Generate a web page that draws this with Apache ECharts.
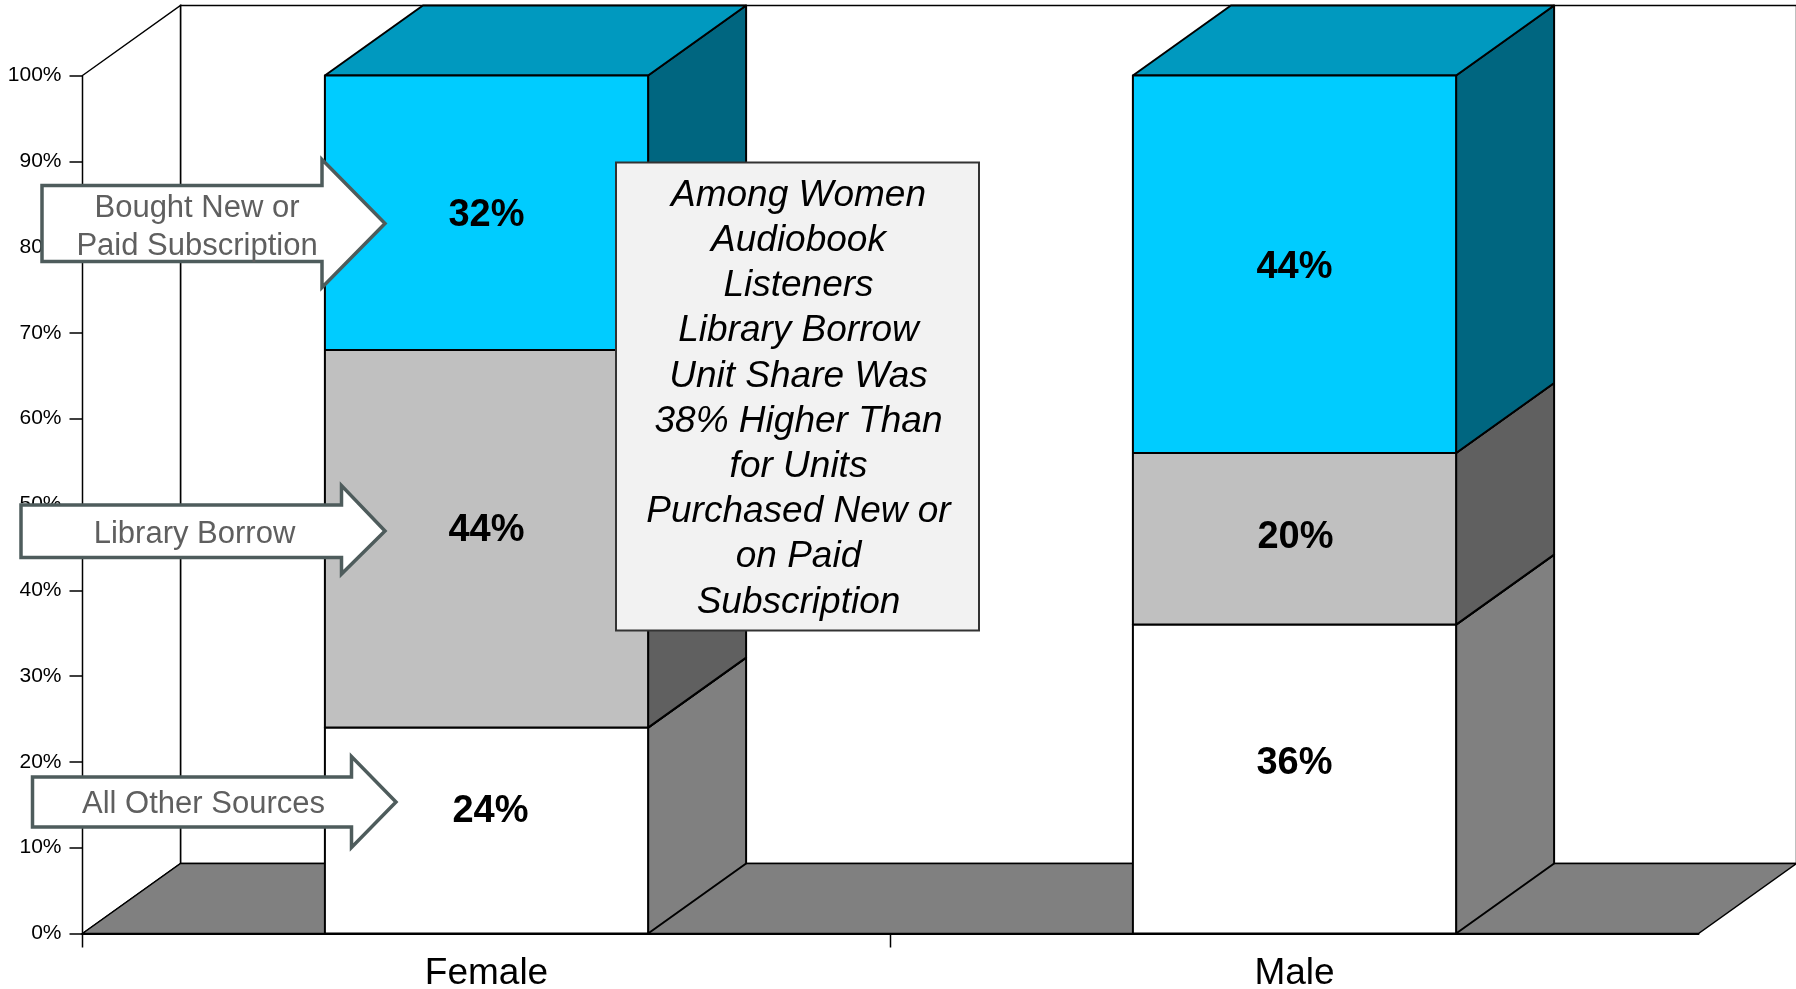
<!DOCTYPE html>
<html>
<head>
<meta charset="utf-8">
<title>Audiobook acquisition by gender</title>
<script src="https://cdn.jsdelivr.net/npm/echarts@6/dist/echarts.min.js"></script>
<style>
  html, body { margin: 0; padding: 0; background: #fff; }
  #chart { width: 1796px; height: 989px; }
</style>
</head>
<body>
<div id="chart"></div>
<script>
// ── Data ──────────────────────────────────────────────────────────────
const categories = ['Female', 'Male'];
const allOtherSources = [24, 36];
const libraryBorrow = [44, 20];
const boughtNewOrPaid = [32, 44];
const yTickLabels = ['0%', '10%', '20%', '30%', '40%', '50%', '60%', '70%', '80%', '90%', '100%'];

// ── Look ──────────────────────────────────────────────────────────────
const FONT = '"Liberation Sans", Arial, Helvetica, sans-serif';
const INK = '#000000';
const DX = 98;          // depth of the 3D box, horizontal
const DY = 70;          // depth of the 3D box, vertical
const BAR_RATIO = 0.4;  // bar width / category width
const X_TICK_LEN = 14;

// shift = nudge of the value label per category (the original placed them by hand)
const segments = [
  { name: 'All Other Sources', values: allOtherSources, front: '#FFFFFF', side: '#808080', top: '#DDDDDD', shift: [[4, -19], [0, -15.5]] },
  { name: 'Library Borrow', values: libraryBorrow, front: '#C0C0C0', side: '#606060', top: '#9A9A9A', shift: [[0, -8.5], [1, -1.5]] },
  { name: 'Bought New or Paid Subscription', values: boughtNewOrPaid, front: '#00CCFF', side: '#006680', top: '#0099BF', shift: [[0, 3], [0, 3]] },
];

// stack the segments: [categoryIndex, low, high, value]
const running = categories.map(() => 0);
const stacked = segments.map(seg => seg.values.map((v, i) => {
  const lo = running[i];
  running[i] += v;
  return [i, lo, running[i], v];
}));

function boxRenderer(seg) {
  return function (params, api) {
    const ci = api.value(0);
    const pLo = api.coord([ci, api.value(1)]);
    const pHi = api.coord([ci, api.value(2)]);
    const w = api.size([1, 0])[0] * BAR_RATIO;
    const xl = pLo[0] - w / 2, xr = pLo[0] + w / 2;
    const y0 = pLo[1], y1 = pHi[1];
    const sh = seg.shift[ci] || [0, 0];
    const edge = { stroke: INK, lineWidth: 2, lineJoin: 'round' };
    return {
      type: 'group',
      children: [
        { type: 'polygon', shape: { points: [[xr, y1], [xr + DX, y1 - DY], [xr + DX, y0 - DY], [xr, y0]] },
          style: Object.assign({ fill: seg.side }, edge) },
        { type: 'polygon', shape: { points: [[xl, y1], [xl + DX, y1 - DY], [xr + DX, y1 - DY], [xr, y1]] },
          style: Object.assign({ fill: seg.top }, edge) },
        { type: 'rect', shape: { x: xl, y: y1, width: w, height: y0 - y1 },
          style: Object.assign({ fill: seg.front }, edge) },
        { type: 'text', x: (xl + xr) / 2 + sh[0], y: (y0 + y1) / 2 + sh[1],
          style: { text: api.value(3) + '%', font: 'bold 38px ' + FONT, fill: INK, align: 'center', verticalAlign: 'middle' } }
      ]
    };
  };
}

// back wall, left wall and floor, built from the grid rectangle
// plus the category-boundary ticks (the original has no tick at the far right end)
function wallRenderer(params, api) {
  const cs = params.coordSys;
  const b = cs.y + cs.height;
  const edge = { stroke: INK, lineWidth: 1.5 };
  const band = api.size([1, 0])[0];
  const ticks = categories.map((c, i) => {
    const x = api.coord([i, 0])[0] - band / 2;
    return { type: 'line', shape: { x1: x, y1: b, x2: x, y2: b + X_TICK_LEN }, style: { stroke: INK, lineWidth: 1.5 } };
  });
  return {
    type: 'group',
    children: [
      { type: 'rect', shape: { x: cs.x + DX, y: cs.y - DY, width: cs.width, height: cs.height },
        style: Object.assign({ fill: '#FFFFFF' }, edge) },
      { type: 'polygon', shape: { points: [[cs.x, cs.y], [cs.x + DX, cs.y - DY], [cs.x + DX, b - DY], [cs.x, b]] },
        style: Object.assign({ fill: '#FFFFFF' }, edge) },
      { type: 'polygon', shape: { points: [[cs.x, b], [cs.x + DX, b - DY], [cs.x + cs.width + DX, b - DY], [cs.x + cs.width, b]] },
        style: Object.assign({ fill: '#808080' }, edge) }
    ].concat(ticks)
  };
}

// ── Callouts ──────────────────────────────────────────────────────────
const ARROW_LINE = '#4E5C5C';
const ARROW_TEXT = '#5F5F5F';

function arrowCallout(a) {
  const pts = [
    [a.left, a.bodyTop], [a.headX, a.bodyTop], [a.headX, a.headTop], [a.tipX, a.tipY],
    [a.headX, a.headBottom], [a.headX, a.bodyBottom], [a.left, a.bodyBottom]
  ];
  return [
    { type: 'polygon', z: 100, shape: { points: pts },
      style: { fill: '#FFFFFF', stroke: ARROW_LINE, lineWidth: 3.5, lineJoin: 'miter' } },
    { type: 'text', z: 101, x: a.textX, y: a.tipY + (a.textDy || 0),
      style: { text: a.text, font: '31px ' + FONT, fill: ARROW_TEXT, align: 'center', verticalAlign: 'middle', lineHeight: 38 } }
  ];
}

const callouts = [
  { text: 'Bought New or\nPaid Subscription', left: 42, bodyTop: 185.5, bodyBottom: 261.5, headX: 322, headTop: 159.5, headBottom: 287.5, tipX: 385, tipY: 223.5, textX: 197, textDy: 3.5 },
  { text: 'Library Borrow', left: 21, bodyTop: 505, bodyBottom: 557.5, headX: 341.5, headTop: 485.5, headBottom: 574, tipX: 385, tipY: 531, textX: 194.5, textDy: 3 },
  { text: 'All Other Sources', left: 32.5, bodyTop: 777, bodyBottom: 827, headX: 351.5, headTop: 756.5, headBottom: 847.5, tipX: 396, tipY: 802, textX: 203.5, textDy: 2.5 }
];

const noteText = 'Among Women\nAudiobook\nListeners\nLibrary Borrow\nUnit Share Was\n38% Higher Than\nfor Units\nPurchased New or\non Paid\nSubscription';

const graphics = [];
callouts.forEach(c => graphics.push(...arrowCallout(c)));
graphics.push(
  { type: 'rect', z: 100, shape: { x: 616, y: 162.5, width: 363, height: 468 },
    style: { fill: '#F2F2F2', stroke: '#333333', lineWidth: 2 } },
  { type: 'text', z: 101, x: 798.5, y: 399,
    style: { text: noteText, font: 'italic 37px ' + FONT, fill: INK, align: 'center', verticalAlign: 'middle', lineHeight: 45.2 } }
);

// ── Chart ─────────────────────────────────────────────────────────────
const chart = echarts.init(document.getElementById('chart'), null, { renderer: 'canvas' });

const option = {
  backgroundColor: '#FFFFFF',
  animation: false,
  textStyle: { fontFamily: FONT },
  grid: { left: 82.5, right: 97.5, top: 75.5, bottom: 55.5, outerBoundsMode: 'none', containLabel: false },
  xAxis: {
    type: 'category',
    data: categories,
    boundaryGap: true,
    axisLine: { lineStyle: { color: INK, width: 2 } },
    axisTick: { show: false },
    axisLabel: { fontSize: 37, color: INK, margin: 22, fontFamily: FONT },
    splitLine: { show: false }
  },
  yAxis: {
    type: 'value',
    min: 0,
    max: 100,
    interval: 10,
    axisLine: { show: true, lineStyle: { color: INK, width: 1.5 } },
    axisTick: { show: true, length: 13, lineStyle: { color: INK, width: 1.5 } },
    axisLabel: { fontSize: 21, color: INK, margin: 21, fontFamily: FONT,
      formatter: v => yTickLabels[Math.round(v / 10)] },
    splitLine: { show: false }
  },
  graphic: graphics,
  series: [
    {
      type: 'custom',
      name: 'walls',
      coordinateSystem: 'cartesian2d',
      clip: false,
      silent: true,
      z: 1,
      data: [[0, 0]],
      encode: { x: 0, y: 1 },
      renderItem: wallRenderer
    }
  ].concat(segments.map((seg, k) => ({
    type: 'custom',
    name: seg.name,
    coordinateSystem: 'cartesian2d',
    clip: false,
    z: 2 + k,
    data: stacked[k],
    encode: { x: 0, y: 2 },
    renderItem: boxRenderer(seg)
  })))
};

chart.setOption(option);
window.addEventListener('resize', () => chart.resize());
</script>
</body>
</html>
